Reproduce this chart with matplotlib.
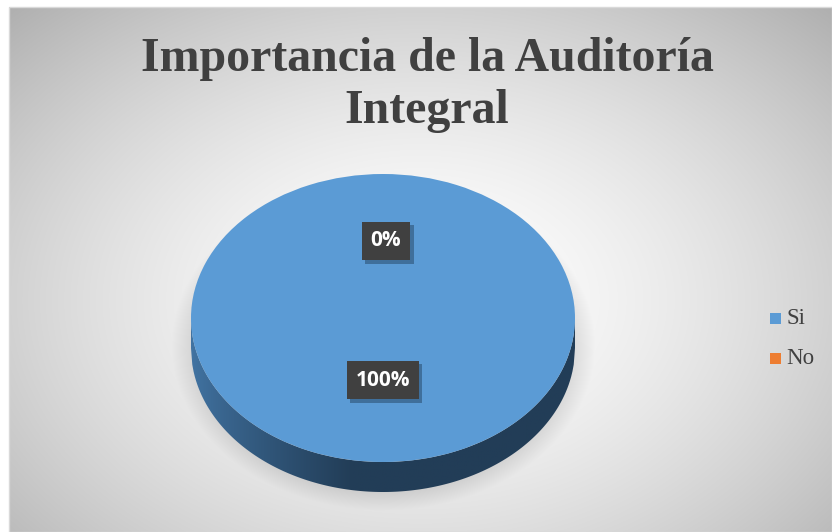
import numpy as np
import matplotlib.pyplot as plt
import matplotlib.patheffects as pe
from matplotlib.patches import Rectangle, Polygon

# Data
categories = ['Si', 'No']
values = [100, 0]
pct_labels = ['100%', '0%']
title = 'Importancia de la Auditoría\nIntegral'
colors = ['#5B9BD5', '#ED7D31']

W, H = 832, 532
fig = plt.figure(figsize=(W / 100, H / 100), dpi=100)
fig.patch.set_facecolor('white')

# background axes in pixel coordinates
bg = fig.add_axes([0, 0, 1, 1])
bg.set_xlim(0, W)
bg.set_ylim(H, 0)
bg.axis('off')

# radial gray gradient for chart area
x0, y0 = 9, 7
yy, xx = np.mgrid[y0:H, x0:W]
r = np.sqrt(((xx - 420) / 470.0) ** 2 + ((yy - 300) / 330.0) ** 2)
shade = np.clip(1.0 - 0.22 * r ** 1.6, 0, 1)
# soft shadow under the pie
d = np.sqrt(((xx - 383) / 200.0) ** 2 + ((yy - 345) / 156.0) ** 2)
sh = np.clip((1.06 - d) / 0.14, 0, 1) * 0.13
shade = shade * (1 - sh)
img = np.dstack([shade, shade, shade])
bg.imshow(img, extent=(x0, W, H, y0), interpolation='bilinear', zorder=0)
bg.add_patch(Rectangle((x0, y0), W - x0, H - y0, fill=False,
                       edgecolor='#d9d9d9', linewidth=1, zorder=1))

bg.text(427, 85, title, ha='center', va='center', fontsize=34.5,
        fontweight='bold', family='Liberation Serif', color='#404040',
        linespacing=1.25)

# pie axes: top face ellipse x 191..575, y 174..462; side depth 30 px
px_l, px_r, px_t, px_b = 191, 575, 174, 492
depth = 30 / 144.0
pax = fig.add_axes([px_l / W, 1 - px_b / H, (px_r - px_l) / W, (px_b - px_t) / H])
pax.axis('off')

# side wall with horizontal gradient
xs = np.linspace(-1, 1, 300)
lower = -np.sqrt(np.clip(1 - xs ** 2, 0, None))
verts = np.concatenate([np.column_stack([xs, lower]),
                        np.column_stack([xs[::-1], lower[::-1] - depth])])
side = Polygon(verts, closed=True, facecolor='none', edgecolor='none')
pax.add_patch(side)
t = np.linspace(0, 1, 400)
c_light = np.array([0x42, 0x74, 0xA3]) / 255
c_dark = np.array([0x22, 0x3D, 0x57]) / 255
w = np.clip(t / 0.42, 0, 1) ** 0.8
grad = (c_light[None, :] * (1 - w[:, None]) + c_dark[None, :] * w[:, None])
gimg = np.repeat(grad[None, :, :], 2, axis=0)
gi = pax.imshow(gimg, extent=(-1, 1, -1 - depth, 0), aspect='auto',
                interpolation='bilinear', zorder=1)
gi.set_clip_path(side)

# top face
wedges, _ = pax.pie(values, colors=colors, startangle=90, counterclock=False,
                    radius=1, center=(0, 0), normalize=True,
                    wedgeprops=dict(linewidth=0))
for wd in wedges:
    wd.set_zorder(2)
pax.set_aspect('auto')
pax.set_xlim(-1, 1)
pax.set_ylim(-1 - depth, 1)

# data labels (drawn on pie axes, placed in pixel coords)
box = dict(boxstyle='square,pad=0.42', facecolor='#404040', edgecolor='none')
lab_pos = [(383, 380), (386, 241)]
for lab, (lx, ly) in zip(pct_labels, lab_pos):
    txt = pax.text(lx, ly, lab, transform=bg.transData, ha='center',
                   va='center', fontsize=15, fontweight='bold',
                   family='Open Sans', color='white', bbox=box, zorder=5,
                   clip_on=False)
    txt.get_bbox_patch().set_path_effects([
        pe.SimplePatchShadow(offset=(2.5, -2.5), shadow_rgbFace='#1f3a55',
                             alpha=0.45),
        pe.Normal()])

# legend
for i, (cat, col) in enumerate(zip(categories, colors)):
    yc = 318 + i * 40
    bg.add_patch(Rectangle((770, yc - 5.5), 11, 11, facecolor=col,
                           edgecolor='none', zorder=5))
    bg.text(786, yc, cat, ha='left', va='center', fontsize=16.5,
            family='Liberation Serif', color='#404040', zorder=5)

fig.savefig('out.png', dpi=100)
